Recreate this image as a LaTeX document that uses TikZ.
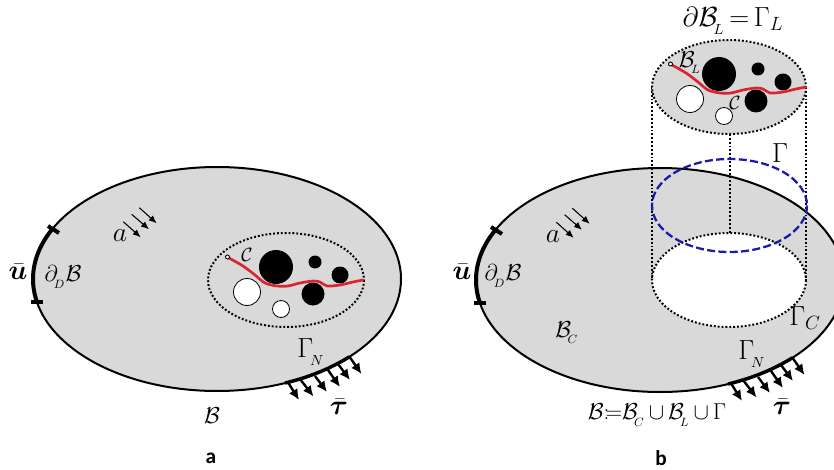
\documentclass[tikz,border=0pt]{standalone}
\usepackage{amsmath,bm}
\usepackage{fontspec}
\newfontfamily\capfont{Carlito}[BoldFont={Carlito Bold}]
\usetikzlibrary{arrows.meta}
\definecolor{dombg}{HTML}{D9D9D9}
\definecolor{crack}{HTML}{D9252F}
\definecolor{iface}{HTML}{1A1AA6}
\tikzset{
  bodyfill/.style={fill=dombg,draw=black,line width=1.5pt},
  dotline/.style={draw=black,line width=1.5pt,dash pattern=on 1.4pt off 1.5pt},
  hollowdot/.style={fill=white,draw=black,line width=.6pt},
  soliddot/.style={fill=black,draw=none},
  crackline/.style={draw=crack,line width=2pt,line cap=round,line join=round},
  fixedbc/.style={line width=3pt},
  endtick/.style={line width=3pt},
  loadarrow/.style={line width=.8pt,-{Latex[length=6pt,width=5pt]}},
  traction/.style={line width=1.8pt,-{Latex[length=8pt,width=7.5pt]}},
  lab/.style={inner sep=0pt,font=\fontsize{18}{20}\selectfont},
  formlab/.style={inner sep=0pt,font=\fontsize{19}{21}\selectfont},
  biglab/.style={inner sep=0pt,font=\fontsize{22}{24}\selectfont},
  boldlab/.style={inner sep=0pt,font=\fontsize{22}{24}\selectfont},
  smalllab/.style={inner sep=0pt,font=\fontsize{15}{17}\selectfont},
  caplab/.style={inner sep=0pt,font=\capfont\bfseries\fontsize{16}{18}\selectfont}
}
\newcommand{\patch}{%
  \fill[soliddot] (276,267) circle[radius=17];
  \fill[soliddot] (315,262) circle[radius=6.5];
  \fill[soliddot] (340,275) circle[radius=8.5];
  \fill[soliddot] (313,294) circle[radius=11.5];
  \draw[hollowdot] (247,292) circle[radius=13.5];
  \draw[hollowdot] (281,309) circle[radius=8.5];
  \draw[crackline] plot[smooth,tension=.5] coordinates {(229,258) (243,266) (255,275) (265,283) (277,286) (288,286) (300,283) (313,281) (320,282) (327,286) (340,285) (353,282) (363,280)};
  \draw[hollowdot,line width=.7pt] (227.5,257) circle[radius=2];
}
\newcommand{\boundary}{%
  \draw[fixedbc] plot[domain=168:206.5,samples=30] ({217+184*cos(\x)},{279+112*sin(\x)});
  \draw[endtick] (48,226) -- (59,233);
  \draw[endtick] (31,302) -- (43,302);
  \draw[line width=2.6pt] plot[domain=44:68.3,samples=20] ({217+184*cos(\x)},{279+112*sin(\x)});
  \draw[traction] (287.5,381.5) -- (299,400);
  \draw[traction] (300,379) -- (313.5,396.5);
  \draw[traction] (315,376) -- (327,392);
  \draw[traction] (328,370) -- (340,387);
  \draw[traction] (338,364) -- (350,380);
  \draw[traction] (350,357.5) -- (361.5,374);
}
\newcommand{\smallarrows}{%
  \draw[loadarrow] (123.3,221.7) -- (140.7,237.3);
  \draw[loadarrow] (131.7,214.3) -- (149,229.3);
  \draw[loadarrow] (139.3,207.7) -- (156.7,223.3);
}
\begin{document}
\begin{tikzpicture}[x=.75pt,y=-.75pt]
\useasboundingbox (0,0) rectangle (834,470);
\clip (0,0) rectangle (834,470);

% ---- panel a
\path[bodyfill] (217,279) ellipse[x radius=184,y radius=112];
\boundary
\smallarrows
\draw[dotline] (286,280) ellipse[x radius=78,y radius=47];
\patch
\node[biglab] (la) at (120,236) {$a$};
\node[boldlab] (lu) at (18,272) {$\bar{\bm{u}}$};
\node[lab] (ldb) at (63,277) {$\partial_{\!{}_D}\mathcal{B}$};
\node[smalllab] (lc) at (247,255) {$\mathcal{C}$};
\node[biglab] (lgn) at (311,352) {$\Gamma_{\!{}_N}$};
\node[boldlab] (lt) at (339,407) {$\bar{\bm{\tau}}$};
\node[lab] (lb) at (212,416) {$\mathcal{B}$};
\node[caplab] (capa) at (211,458) {a};

% ---- panel b
\path[bodyfill] (660,280) ellipse[x radius=184,y radius=112];
\begin{scope}[shift={(443,1)}]
\boundary
\end{scope}
\begin{scope}[shift={(433,0.5)}]
\smallarrows
\end{scope}
\draw[dotline,fill=white] (729,280) ellipse[x radius=77,y radius=47];
\draw[dotline] (652,87) -- (652,280);
\draw[dotline] (806,87) -- (806,280);
\draw[dotline] (729.5,134) -- (729.5,233);
\draw[dotline,fill=dombg] (729,87) ellipse[x radius=77,y radius=47];
\begin{scope}[shift={(443,-193)}]
\patch
\end{scope}
\draw[draw=iface,line width=1.7pt,dash pattern=on 6pt off 2.5pt] (729.5,205.5) ellipse[x radius=77.5,y radius=46.5];
\node[biglab] (ra) at (553,237) {$a$};
\node[boldlab] (ru) at (462,272) {$\bar{\bm{u}}$};
\node[lab] (rdb) at (503,276) {$\partial_{\!{}_D}\mathcal{B}$};
\node[lab] (rbc) at (567,333) {$\mathcal{B}_{\!{}_C}$};
\node[biglab] (rgn) at (752,354) {$\Gamma_{\!{}_N}$};
\node[boldlab] (rt) at (782,407) {$\bar{\bm{\tau}}$};
\node[formlab] (rf) at (657,415) {$\mathcal{B}{:}\!{=}\mathcal{B}_{\!{}_C}\,{\cup}\,\mathcal{B}_{\!{}_L}\,{\cup}\,\Gamma$};
\node[caplab] (capb) at (661,458) {b};
\node[biglab] (rtop) at (733,21) {$\partial\mathcal{B}_{\!{}_L}\,{=}\,\Gamma_L$};
\node[biglab] (rg) at (780,153) {$\Gamma$};
\node[biglab] (rgc) at (805,318) {$\Gamma_C$};
\node[lab] (rbl) at (690,63) {$\mathcal{B}_{\!{}_L}$};
\node[smalllab] (rc) at (735,103) {$\mathcal{C}$};
\end{tikzpicture}
\end{document}
